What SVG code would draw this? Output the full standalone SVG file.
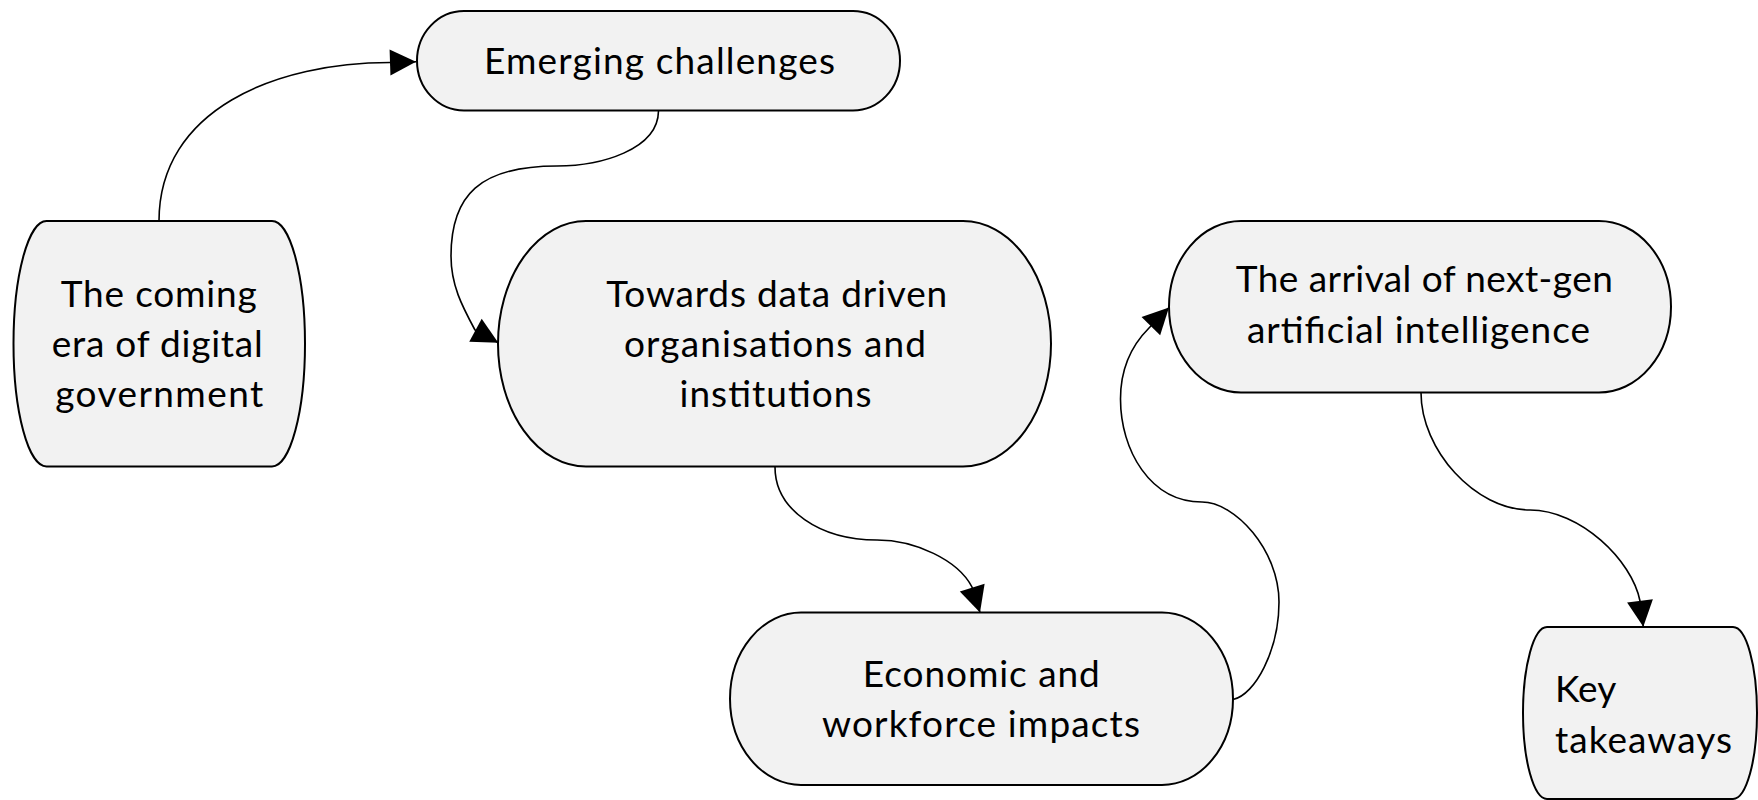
<svg xmlns="http://www.w3.org/2000/svg" width="1758" height="800" viewBox="0 0 1758 800">
<style>
.node{fill:#F2F2F2;stroke:#000;stroke-width:2}
.lbl{font-family:Lato,"Liberation Sans",sans-serif;font-size:37px;fill:#000;text-anchor:middle}
.left{text-anchor:start}
.conn{fill:none;stroke:#000;stroke-width:1.6;marker-end:url(#arrow)}
</style>
<defs>
<marker id="arrow" markerUnits="userSpaceOnUse" markerWidth="28" markerHeight="28" refX="26" refY="13" orient="auto" overflow="visible">
<path d="M0,0 L26,13 L0,26 Z" fill="#000"/>
</marker>
</defs>
<rect width="1758" height="800" fill="#fff"/>
<g id="connectors">
<path class="conn" d="M159,221 C159,110 275,62 392,62.5 L416,61.7"/>
<path class="conn" d="M658.5,111 C658,150 600,166 557,166 C480,166 451,195 451,256 C451,285 462,306 475,330 L498.3,342.7"/>
<path class="conn" d="M775,467 C775,510 820,540 877,540 C915,540 958,560 972,587 L980,612.5"/>
<path class="conn" d="M1233,699.5 C1255,695 1279,650 1279,602 C1279,550 1235,502 1202,502 C1150,502 1120.5,450 1120.5,399 C1120.5,365 1135,342 1149,328 L1169,307.5"/>
<path class="conn" d="M1421,392.5 C1421,450 1475,510 1530,510 C1580,510 1632,560 1640,601 L1643.3,626.7"/>
</g>
<g id="node-coming-era">
<rect class="node" x="13.5" y="221" width="291.5" height="245.5" rx="33" ry="122.75"/>
<text class="lbl" x="158.7" y="306.7" textLength="196" lengthAdjust="spacing">The coming</text>
<text class="lbl" x="157.2" y="356.7" textLength="211" lengthAdjust="spacing">era of digital</text>
<text class="lbl" x="159.2" y="406.7" textLength="208" lengthAdjust="spacing">government</text>
</g>
<g id="node-emerging">
<rect class="node" x="417" y="11" width="483" height="99.5" rx="47" ry="49.75"/>
<text class="lbl" x="659.5" y="74.3" textLength="351" lengthAdjust="spacing">Emerging challenges</text>
</g>
<g id="node-towards">
<rect class="node" x="498" y="221" width="553" height="245.5" rx="88" ry="122.75"/>
<text class="lbl" x="776.7" y="306.7" textLength="341" lengthAdjust="spacing">Towards data driven</text>
<text class="lbl" x="775" y="356.7" textLength="302" lengthAdjust="spacing">organisations and</text>
<text class="lbl" x="775.5" y="406.7" textLength="192" lengthAdjust="spacing">institutions</text>
</g>
<g id="node-economic">
<rect class="node" x="730" y="612.5" width="503" height="172.5" rx="71" ry="86.25"/>
<text class="lbl" x="981.3" y="686.7" textLength="237" lengthAdjust="spacing">Economic and</text>
<text class="lbl" x="981" y="736.7" textLength="318" lengthAdjust="spacing">workforce impacts</text>
</g>
<g id="node-arrival">
<rect class="node" x="1169" y="221" width="502" height="171.5" rx="72" ry="85.75"/>
<text class="lbl" x="1424.3" y="292" textLength="377" lengthAdjust="spacing">The arrival of next-gen</text>
<text class="lbl" x="1418.5" y="343" textLength="343" lengthAdjust="spacing">artificial intelligence</text>
</g>
<g id="node-key">
<rect class="node" x="1523" y="627" width="234" height="172" rx="24" ry="86"/>
<text class="lbl left" x="1555" y="701.7">Key</text>
<text class="lbl left" x="1555" y="753.3" textLength="177" lengthAdjust="spacing">takeaways</text>
</g>
</svg>
